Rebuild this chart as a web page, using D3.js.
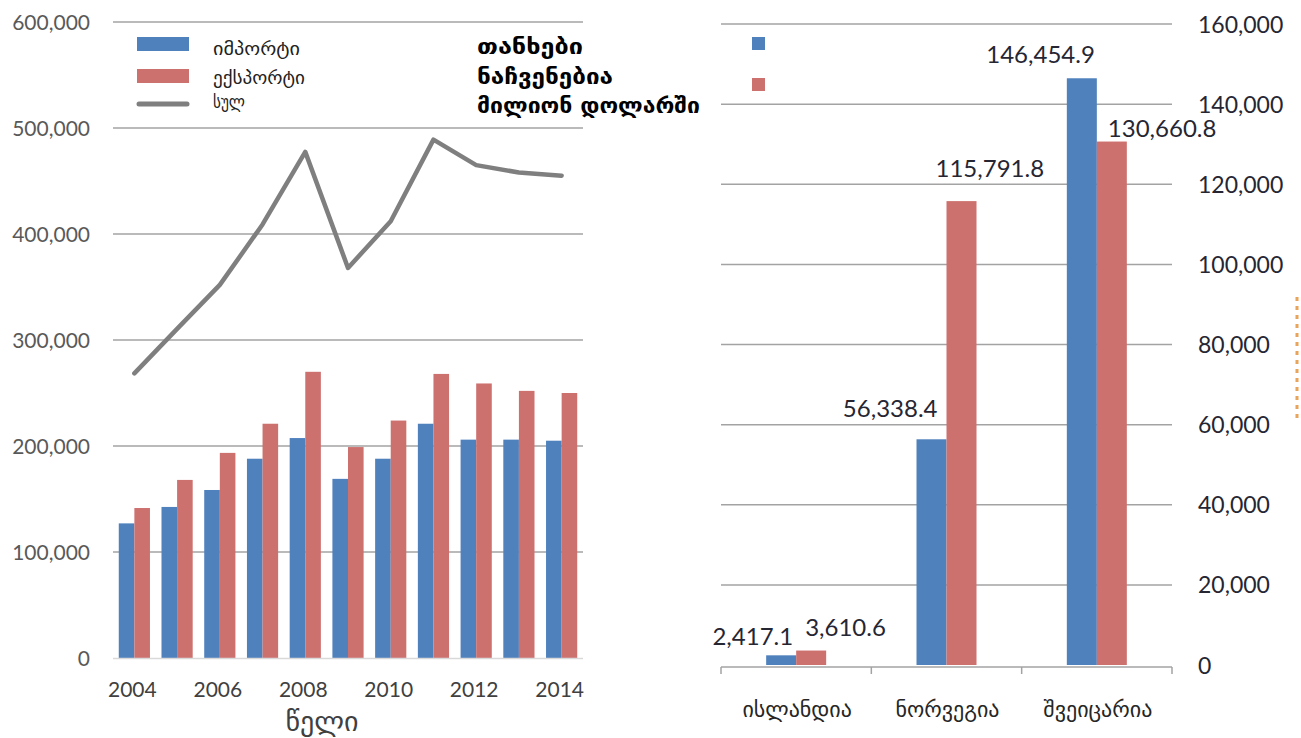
<!DOCTYPE html>
<html>
<head>
<meta charset="utf-8">
<script src="https://cdn.jsdelivr.net/npm/d3@7"></script>
<style>
  html, body { margin: 0; padding: 0; background: #ffffff; }
  svg { display: block; }
</style>
</head>
<body>
<svg id="chart" width="1301" height="738"></svg>
<script>
// ---------- DATA ----------
const years = [2004, 2005, 2006, 2007, 2008, 2009, 2010, 2011, 2012, 2013, 2014];
const yearTicks = [2004, 2006, 2008, 2010, 2012, 2014];
const importVals = [127000, 142500, 158500, 188000, 207500, 169000, 188000, 221000, 206000, 206000, 205000];
const exportVals = [141500, 168000, 193500, 221000, 270000, 199000, 224000, 268000, 259000, 252000, 250000];
const totalVals  = [268500, 310500, 352000, 409000, 477500, 368000, 412000, 489000, 465000, 458000, 455000];
const leftYTicks = [0, 100000, 200000, 300000, 400000, 500000, 600000];

const countries = ["ისლანდია", "ნორვეგია", "შვეიცარია"];
const countryImport = [2417.1, 56338.4, 146454.9];
const countryExport = [3610.6, 115791.8, 130660.8];
const rightYTicks = [0, 20000, 40000, 60000, 80000, 100000, 120000, 140000, 160000];

const legendLeft = ["იმპორტი", "ექსპორტი", "სულ"];
const noteLines = ["თანხები", "ნაჩვენებია", "მილიონ დოლარში"];
const xTitle = "წელი";

// ---------- STYLE / LAYOUT ----------
const BLUE = "#4f81bd", RED = "#cd716f", GREY_LINE = "#7f7f7f", GRID = "#a3a3a3";
const NUM_FONT = "Lato, 'Liberation Sans', sans-serif";
const GEO_FONT = "'DejaVu Sans', sans-serif";
const fmt = d3.format(",");
const fmt1 = d3.format(",.1f");
// label nudges (px) relative to bar corner, as placed in the original
const impLabelNudge = [[-3, -10], [-9, -22], [-2, -15]];
const expLabelNudge = [[9, -15], [-11, -24], [11, -5]];
const legendWidths = [87, 92, 32];
const noteWidths = [106, 136, 223];

const svg = d3.select("#chart");

// ================= LEFT CHART =================
const L = { x0: 113, x1: 583, y0: 658, y1: 22 };
const xL = d3.scaleBand().domain(years).range([L.x0, L.x1]);
const yL = d3.scaleLinear().domain([0, 600000]).range([L.y0, L.y1]);
const bwL = xL.bandwidth() * 0.365;

svg.append("g").selectAll("line").data(leftYTicks.filter(d => d > 0)).join("line")
  .attr("x1", L.x0).attr("x2", L.x1)
  .attr("y1", d => yL(d)).attr("y2", d => yL(d))
  .attr("stroke", GRID).attr("stroke-width", 1.5);

const yAxisL = d3.axisLeft(yL).tickValues(leftYTicks).tickFormat(fmt).tickSize(0).tickPadding(0);
const gyL = svg.append("g").attr("transform", `translate(90,0)`).call(yAxisL);
gyL.select(".domain").remove();
gyL.selectAll("text").attr("font-family", NUM_FONT).attr("font-size", 21)
  .attr("fill", "#595959").attr("dy", "0.35em");

const gBarsL = svg.append("g");
gBarsL.selectAll("rect.imp").data(years).join("rect").attr("class", "imp")
  .attr("x", (d) => xL(d) + xL.bandwidth() / 2 - bwL)
  .attr("width", bwL)
  .attr("y", (d, i) => yL(importVals[i]))
  .attr("height", (d, i) => yL(0) - yL(importVals[i]))
  .attr("fill", BLUE);
gBarsL.selectAll("rect.exp").data(years).join("rect").attr("class", "exp")
  .attr("x", (d) => xL(d) + xL.bandwidth() / 2)
  .attr("width", bwL)
  .attr("y", (d, i) => yL(exportVals[i]))
  .attr("height", (d, i) => yL(0) - yL(exportVals[i]))
  .attr("fill", RED);

svg.append("line").attr("x1", L.x0).attr("x2", L.x1).attr("y1", L.y0 + 0.5).attr("y2", L.y0 + 0.5)
  .attr("stroke", "#d9d9d9").attr("stroke-width", 1.5);

const line = d3.line().x((d, i) => xL(years[i]) + xL.bandwidth() / 2).y(d => yL(d));
svg.append("path").datum(totalVals).attr("d", line)
  .attr("fill", "none").attr("stroke", GREY_LINE).attr("stroke-width", 4.5)
  .attr("stroke-linejoin", "round").attr("stroke-linecap", "round");

const xAxisL = d3.axisBottom(xL).tickValues(yearTicks).tickSize(0).tickPadding(0);
const gxL = svg.append("g").attr("transform", `translate(-2,${L.y0 + 24})`).call(xAxisL);
gxL.select(".domain").remove();
gxL.selectAll("text").attr("font-family", NUM_FONT).attr("font-size", 21)
  .attr("fill", "#404040").attr("dy", "0.71em");

svg.append("text").attr("x", 322).attr("y", 731).attr("text-anchor", "middle")
  .attr("font-family", GEO_FONT).attr("font-size", 28).attr("fill", "#404040").text(xTitle);

// legend (left)
const legColors = [BLUE, RED, GREY_LINE];
const legY = [44, 76, 104];
const legTextY = [55, 84, 108];
legendLeft.forEach((t, i) => {
  if (i < 2) {
    svg.append("rect").attr("x", 137).attr("y", legY[i] - 7).attr("width", 52).attr("height", 14).attr("fill", legColors[i]);
  } else {
    svg.append("line").attr("x1", 139).attr("x2", 187).attr("y1", legY[i]).attr("y2", legY[i])
      .attr("stroke", legColors[i]).attr("stroke-width", 5).attr("stroke-linecap", "round");
  }
  svg.append("text").attr("x", 213).attr("y", legTextY[i])
    .attr("font-family", GEO_FONT).attr("font-size", 18).attr("fill", "#222")
    .attr("textLength", legendWidths[i]).attr("lengthAdjust", "spacingAndGlyphs").text(t);
});
const noteY = [54, 84, 113];
noteLines.forEach((t, i) => {
  svg.append("text").attr("x", 477).attr("y", noteY[i])
    .attr("font-family", GEO_FONT).attr("font-weight", "bold").attr("font-size", 22)
    .attr("fill", "#000")
    .attr("textLength", noteWidths[i]).attr("lengthAdjust", "spacingAndGlyphs").text(t);
});

// ================= RIGHT CHART =================
const R = { x0: 721, x1: 1172, y0: 665, y1: 24 };
const xR = d3.scaleBand().domain(countries).range([R.x0, R.x1]);
const yR = d3.scaleLinear().domain([0, 160000]).range([R.y0, R.y1]);
const bwR = 30;

svg.append("g").selectAll("line").data(rightYTicks.filter(d => d > 0)).join("line")
  .attr("x1", R.x0).attr("x2", R.x1)
  .attr("y1", d => yR(d)).attr("y2", d => yR(d))
  .attr("stroke", GRID).attr("stroke-width", 1.5);

const yAxisR = d3.axisRight(yR).tickValues(rightYTicks).tickFormat(fmt).tickSize(0).tickPadding(0);
const gyR = svg.append("g").attr("transform", `translate(1198,0)`).call(yAxisR);
gyR.select(".domain").remove();
gyR.selectAll("text").attr("font-family", NUM_FONT).attr("font-size", 23)
  .attr("fill", "#262633").attr("dy", "0.35em");

const gBarsR = svg.append("g");
gBarsR.selectAll("rect.imp").data(countries).join("rect").attr("class", "imp")
  .attr("x", d => xR(d) + xR.bandwidth() / 2 - bwR).attr("width", bwR)
  .attr("y", (d, i) => yR(countryImport[i]))
  .attr("height", (d, i) => yR(0) - yR(countryImport[i]))
  .attr("fill", BLUE);
gBarsR.selectAll("rect.exp").data(countries).join("rect").attr("class", "exp")
  .attr("x", d => xR(d) + xR.bandwidth() / 2).attr("width", bwR)
  .attr("y", (d, i) => yR(countryExport[i]))
  .attr("height", (d, i) => yR(0) - yR(countryExport[i]))
  .attr("fill", RED);

gBarsR.selectAll("text.imp").data(countries).join("text").attr("class", "imp")
  .attr("x", (d, i) => xR(d) + xR.bandwidth() / 2 + impLabelNudge[i][0])
  .attr("y", (d, i) => yR(countryImport[i]) + impLabelNudge[i][1])
  .attr("text-anchor", "end")
  .attr("font-family", NUM_FONT).attr("font-size", 24).attr("fill", "#262633")
  .text((d, i) => fmt1(countryImport[i]));
gBarsR.selectAll("text.exp").data(countries).join("text").attr("class", "exp")
  .attr("x", (d, i) => xR(d) + xR.bandwidth() / 2 + expLabelNudge[i][0])
  .attr("y", (d, i) => yR(countryExport[i]) + expLabelNudge[i][1])
  .attr("text-anchor", "start")
  .attr("font-family", NUM_FONT).attr("font-size", 24).attr("fill", "#262633")
  .text((d, i) => fmt1(countryExport[i]));

const bounds = countries.map(c => xR(c)).concat([R.x1]);
svg.append("line").attr("x1", R.x0).attr("x2", R.x1).attr("y1", R.y0 + 2).attr("y2", R.y0 + 2)
  .attr("stroke", GRID).attr("stroke-width", 1.5);
svg.append("g").selectAll("line").data(bounds).join("line")
  .attr("x1", d => d).attr("x2", d => d).attr("y1", R.y0 + 2).attr("y2", R.y0 + 9)
  .attr("stroke", GRID).attr("stroke-width", 1.5);

const xAxisR = d3.axisBottom(xR).tickSize(0).tickPadding(0);
const gxR = svg.append("g").attr("transform", `translate(1,717)`).call(xAxisR);
gxR.select(".domain").remove();
gxR.selectAll("text").attr("font-family", GEO_FONT).attr("font-size", 22)
  .attr("fill", "#262626").attr("dy", "0");

// legend squares (right)
svg.append("rect").attr("x", 752).attr("y", 37).attr("width", 13).attr("height", 13).attr("fill", BLUE);
svg.append("rect").attr("x", 752).attr("y", 78).attr("width", 13).attr("height", 13).attr("fill", RED);

// remnant of an orange axis title cut off at the right edge (drawn as a dotted mark)
svg.append("line").attr("x1", 1297).attr("x2", 1297).attr("y1", 297).attr("y2", 420)
  .attr("stroke", "#e8a45a").attr("stroke-width", 3).attr("stroke-dasharray", "4,5");
</script>
</body>
</html>
